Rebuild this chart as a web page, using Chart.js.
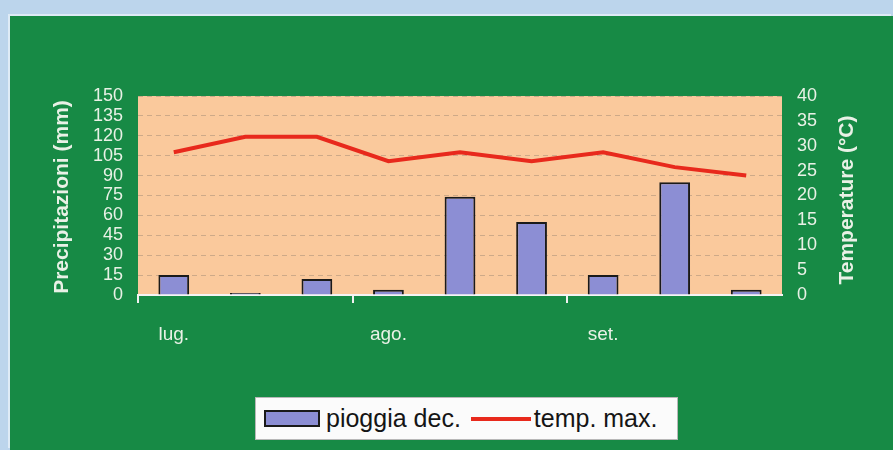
<!DOCTYPE html>
<html>
<head>
<meta charset="utf-8">
<script src="https://cdn.jsdelivr.net/npm/chart.js@4"></script>
<style>
  html, body { margin:0; padding:0; width:893px; height:450px; overflow:hidden; background:#bcd5ec; }
  #panel { position:absolute; left:10px; top:16px; width:883px; height:434px; background:#178a45; box-shadow:-2px -2px 0 #deebf6; }
  #wrap { position:absolute; left:0; top:0; width:893px; height:450px; }
  #legend { position:absolute; left:255px; top:397px; width:421px; height:41px; background:#fbfbfb; border:1px solid #b8b8b8;
            font-family:"Liberation Sans", Arial, sans-serif; font-size:25px; color:#151515; display:flex; align-items:center; white-space:nowrap; }
  .sw { display:inline-block; width:52px; height:13px; background:#8c8ed4; border:2px solid #1a1a1a; margin-left:8px; margin-right:6px; }
  .ln { display:inline-block; width:60px; height:4px; background:#e8291c; margin-left:10px; margin-right:3px; }
</style>
</head>
<body>
<div id="panel"></div>
<div id="wrap"><canvas id="c" width="893" height="450"></canvas></div>
<div id="legend"><span class="sw"></span><span>pioggia dec.</span><span class="ln"></span><span>temp. max.</span></div>
<script>
const categories = ['lug.', '', '', 'ago.', '', '', 'set.', '', ''];
const pioggia = [15, 1.5, 12, 4, 74, 55, 15, 85, 4];
const tempMax = [28.7, 31.8, 31.8, 26.9, 28.7, 26.9, 28.7, 25.7, 24];
const leftTitle = 'Precipitazioni (mm)';
const rightTitle = 'Temperature (°C)';

const FONT = '"Liberation Sans", Arial, sans-serif';
const TXT = '#e9f1e6';

const bgPlugin = {
  id: 'bg',
  beforeDraw(chart) {
    const {ctx, chartArea:a} = chart;
    ctx.save();
    ctx.fillStyle = '#fac99c';
    ctx.fillRect(a.left, a.top, a.right - a.left, a.bottom - a.top);
    ctx.restore();
  },
  afterDraw(chart) {
    const {ctx} = chart;
    [[leftTitle, 62, 197], [rightTitle, 847, 200]].forEach(([t, x, y]) => {
      ctx.save();
      ctx.fillStyle = TXT;
      ctx.font = 'bold 21px ' + FONT;
      ctx.textAlign = 'center';
      ctx.textBaseline = 'middle';
      ctx.translate(x, y);
      ctx.rotate(-Math.PI/2);
      ctx.fillText(t, 0, 0);
      ctx.restore();
    });
  }
};

new Chart(document.getElementById('c'), {
  data: {
    labels: categories,
    datasets: [
      { type:'line', label:'temp. max.', data: tempMax, yAxisID:'y1', borderColor:'#e8291c', borderWidth:4,
        pointRadius:0, tension:0, order:0 },
      { type:'bar', label:'pioggia dec.', data: pioggia, yAxisID:'y', backgroundColor:'#8c8ed4',
        borderColor:'#1a1a1a', borderWidth:{top:2,left:2,right:2,bottom:0}, borderSkipped:false,
        categoryPercentage:1, barPercentage:0.43, order:1 }
    ]
  },
  options: {
    responsive:false, animation:false,
    layout:{ padding:{ top:96, left:0, right:0, bottom:0 } },
    plugins:{ legend:{display:false}, tooltip:{enabled:false} },
    scales:{
      x:{
        afterFit(s){ s.height = 155; },
        grid:{ offset:true, drawOnChartArea:false, drawTicks:true, tickLength:8,
               color:(c)=> (c.index % 3 === 0 ? '#f1f1f1' : 'rgba(0,0,0,0)'), lineWidth:2 },
        border:{ display:true, color:'#f4f4f4', width:2 },
        ticks:{ autoSkip:false, maxRotation:0, color:TXT, font:{ family:FONT, size:19 }, padding:20 }
      },
      y:{
        position:'left', min:0, max:150,
        afterFit(s){ s.width = 138; },
        grid:{ color:'rgba(120,110,100,0.35)', lineWidth:1, drawTicks:false },
        border:{ display:false, dash:[5,4] },
        ticks:{ stepSize:15, autoSkip:false, color:TXT, font:{ family:FONT, size:18, lineHeight:1 }, padding:15 }
      },
      y1:{
        position:'right', min:0, max:40,
        afterFit(s){ s.width = 111; },
        grid:{ display:false, drawTicks:false },
        border:{ display:false },
        ticks:{ stepSize:5, autoSkip:false, color:TXT, font:{ family:FONT, size:18, lineHeight:1 }, padding:15 }
      }
    }
  },
  plugins:[bgPlugin]
});
</script>
</body>
</html>
